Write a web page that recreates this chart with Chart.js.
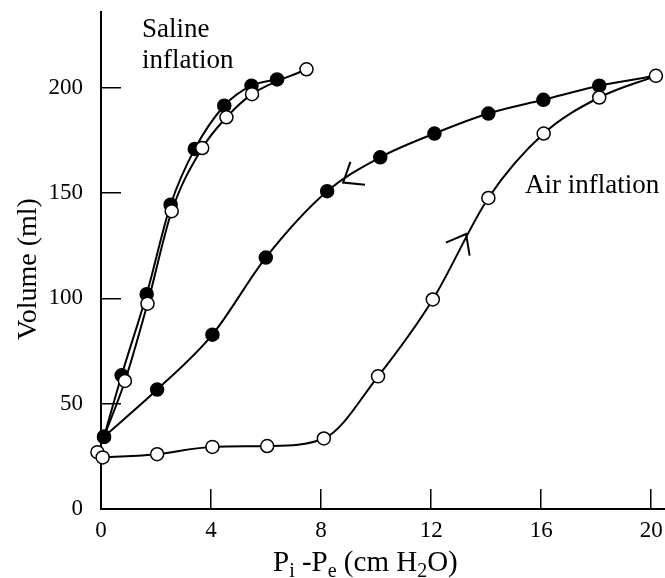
<!DOCTYPE html>
<html>
<head>
<meta charset="utf-8">
<script src="https://cdn.jsdelivr.net/npm/chart.js@4"></script>
<style>
  html, body { margin: 0; padding: 0; background: #fff; }
  #wrap { width: 665px; height: 578px; }
</style>
</head>
<body>
<div id="wrap"><canvas id="pv"></canvas></div>
<script>
// pressure (cm H2O) / volume (ml)
const salineFilledX = [0.11, 0.75, 1.66, 2.53, 3.41, 4.48, 5.47, 6.4];
const salineFilledY = [34.3, 63.5, 102, 144.5, 171, 191.5, 201, 204];
const salineOpenX = [0.11, 0.87, 1.69, 2.57, 3.68, 4.56, 5.49, 7.47];
const salineOpenY = [34.3, 60.8, 97.5, 141.4, 171.4, 186, 197, 208.8];
const airInX = [0.06, 2.04, 4.05, 6.04, 8.1, 10.07, 12.06, 14.08, 16.09, 18.11, 20.17];
const airInY = [24.5, 26, 29.5, 29.9, 33.5, 63, 99.5, 147.7, 178.3, 195.4, 205.7];
const airOutX = [20.17, 18.11, 16.08, 14.08, 12.12, 10.15, 8.22, 5.99, 4.05, 2.04, 0.11];
const airOutY = [205.7, 201, 194.3, 187.8, 178.3, 167, 150.9, 119.4, 82.8, 56.7, 34.3];
const strayX = [-0.13];
const strayY = [27];

const xTicks = [0, 4, 8, 12, 16, 20];
const yTicks = [0, 50, 100, 150, 200];

// arrow tips on the air loop
const arrowOut = [8.8, 155];
const arrowIn = [13.27, 130.6];

const pts = (xs, ys) => xs.map((x, i) => ({x: x, y: ys[i]}));
const R = 6.5;
const serif = "'Liberation Serif', 'Times New Roman', serif";

function lineSet(data, filled, hideFirst) {
  return {
    data: data,
    borderColor: '#000',
    borderWidth: 2,
    pointBackgroundColor: filled ? '#000' : '#fff',
    pointBorderColor: '#000',
    pointBorderWidth: 1.5,
    pointRadius: c => (hideFirst && c.dataIndex === 0) ? 0 : R,
    cubicInterpolationMode: 'monotone',
    clip: false
  };
}

// draws the little V arrowheads along the air loop
function arrowHead(ctx, chart, tip, curve) {
  const xs = chart.scales.x, ys = chart.scales.y;
  const tx = xs.getPixelForValue(tip[0]), ty = ys.getPixelForValue(tip[1]);
  let a = curve[0], b = curve[1];
  for (let i = 0; i < curve.length - 1; i++) {
    const lo = Math.min(curve[i].x, curve[i + 1].x), hi = Math.max(curve[i].x, curve[i + 1].x);
    if (tip[0] >= lo && tip[0] <= hi) { a = curve[i]; b = curve[i + 1]; break; }
  }
  const dx = xs.getPixelForValue(a.x) - xs.getPixelForValue(b.x);
  const dy = ys.getPixelForValue(a.y) - ys.getPixelForValue(b.y);
  const back = Math.atan2(dy, dx);
  const len = 22, spread = 38 * Math.PI / 180;
  ctx.beginPath();
  ctx.moveTo(tx + len * Math.cos(back + spread), ty + len * Math.sin(back + spread));
  ctx.lineTo(tx, ty);
  ctx.lineTo(tx + len * Math.cos(back - spread), ty + len * Math.sin(back - spread));
  ctx.stroke();
}

const extras = {
  id: 'extras',
  afterDatasetsDraw(chart) {
    const ctx = chart.ctx;
    ctx.save();
    ctx.strokeStyle = '#000';
    ctx.lineWidth = 2;
    arrowHead(ctx, chart, arrowOut, pts(airOutX, airOutY));
    arrowHead(ctx, chart, arrowIn, pts(airInX, airInY));

    ctx.fillStyle = '#000';
    ctx.textBaseline = 'alphabetic';
    ctx.textAlign = 'left';
    ctx.font = '27px ' + serif;
    ctx.fillText('Saline', 142, 37);
    ctx.fillText('inflation', 142, 68);
    ctx.fillText('Air inflation', 525, 193);

    // y axis title
    ctx.save();
    ctx.translate(36, 269);
    ctx.rotate(-Math.PI / 2);
    ctx.textAlign = 'center';
    ctx.font = '28px ' + serif;
    ctx.fillText('Volume (ml)', 0, 0);
    ctx.restore();

    // x axis title with subscripts
    const big = '29px ' + serif, small = '20px ' + serif;
    const parts = [['P', 0], ['i', 1], [' -P', 0], ['e', 1], [' (cm H', 0], ['2', 1], ['O)', 0]];
    let x = 273;
    const base = 571;
    for (const [t, sub] of parts) {
      ctx.font = sub ? small : big;
      ctx.fillText(t, x, sub ? base + 6 : base);
      x += ctx.measureText(t).width;
    }
    ctx.restore();
  }
};

new Chart(document.getElementById('pv'), {
  type: 'line',
  data: {
    datasets: [
      lineSet(pts(salineOpenX, salineOpenY), false, true),
      lineSet(pts(salineFilledX, salineFilledY), true, false),
      lineSet(pts(airInX, airInY), false, false),
      lineSet(pts(airOutX, airOutY), true, true),
      Object.assign(lineSet(pts(strayX, strayY), false, false), {showLine: false})
    ]
  },
  options: {
    responsive: true,
    maintainAspectRatio: false,
    animation: false,
    events: [],
    layout: { autoPadding: false, padding: { top: 12, right: 0, left: 0, bottom: 0 } },
    plugins: { legend: { display: false }, tooltip: { enabled: false } },
    scales: {
      x: {
        type: 'linear',
        min: 0,
        max: 20.5,
        afterFit: s => { s.height = 69; s.paddingLeft = 0; s.paddingRight = 0; },
        afterBuildTicks: s => { s.ticks = xTicks.map(v => ({value: v})); },
        ticks: { color: '#000', font: { family: serif, size: 23 }, padding: 28, includeBounds: false },
        grid: { drawOnChartArea: false, tickLength: -20, color: '#000', lineWidth: 1.5 },
        border: { color: '#000', width: 2 }
      },
      y: {
        min: 0,
        max: 236,
        afterFit: s => { s.width = 101; s.paddingTop = 0; s.paddingBottom = 0; },
        afterBuildTicks: s => { s.ticks = yTicks.map(v => ({value: v})); },
        ticks: { color: '#000', font: { family: serif, size: 23 }, padding: 38, includeBounds: false },
        grid: { drawOnChartArea: false, tickLength: -20, color: '#000', lineWidth: 1.5 },
        border: { color: '#000', width: 2 }
      }
    }
  },
  plugins: [extras]
});
</script>
</body>
</html>
